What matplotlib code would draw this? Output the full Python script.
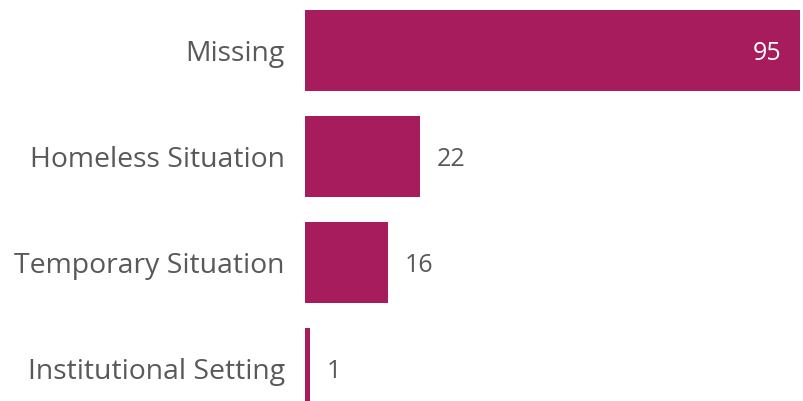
import matplotlib
matplotlib.use("Agg")
import matplotlib.pyplot as plt

categories = ["Missing", "Homeless Situation", "Temporary Situation", "Institutional Setting"]
values = [95, 22, 16, 1]

bar_color = "#A61C5C"
text_color = "#595959"

plt.rcParams['font.family'] = ['Open Sans', 'DejaVu Sans']

fig = plt.figure(figsize=(8.04, 4.01), dpi=100)
ax = fig.add_axes([305/804, 0, 495/804, 1])
pos = list(range(len(categories)))
ax.barh(pos, values, height=0.764, color=bar_color)
ax.set_xlim(0, 95)
ax.set_ylim((401-50.5)/106, -50.5/106)
ax.set_yticks(pos)
ax.set_yticklabels(categories, fontsize=20.4, color=text_color)
ax.tick_params(axis='y', length=0, pad=14.5)
ax.set_xticks([])
for s in ax.spines.values():
    s.set_visible(False)

for p, v in zip(pos, values):
    if v > 50:
        ax.annotate(str(v), (v, p), xytext=(-13.7, -2), textcoords='offset points',
                    ha='right', va='center', color='white', fontsize=18)
    else:
        ax.annotate(str(v), (v, p), xytext=(12, -2), textcoords='offset points',
                    ha='left', va='center', color=text_color, fontsize=18)

fig.savefig("out.png", dpi=100)
